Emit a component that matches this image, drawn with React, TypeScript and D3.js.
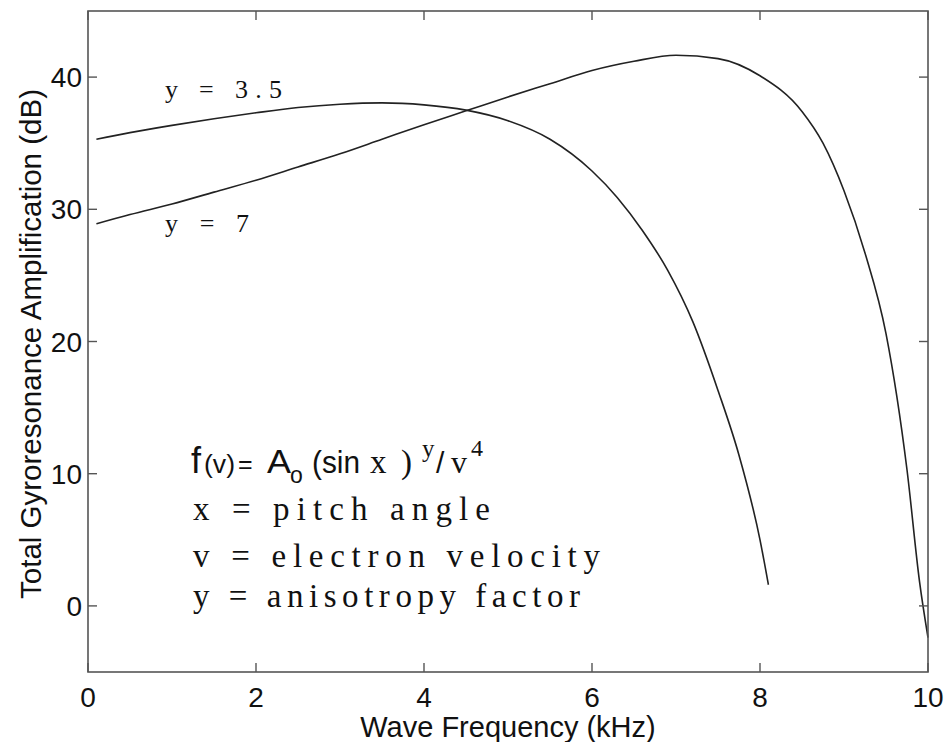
import React from "react";
import * as d3 from "d3";

const freq35 = [0.1, 0.5, 1, 1.5, 2, 2.5, 3, 3.5, 4, 4.5, 5, 5.5, 6, 6.3, 6.6, 6.9, 7.2, 7.5, 7.75, 8.0, 8.1];
const amp35 = [35.3, 35.8, 36.35, 36.85, 37.3, 37.7, 37.95, 38.05, 37.9, 37.5, 36.7, 35.3, 32.9, 30.9, 28.4, 25.4, 21.5, 16.3, 11.4, 5.0, 1.6];

const freq7 = [0.1, 0.5, 1, 1.5, 2, 2.5, 3, 3.5, 4, 4.5, 5, 5.5, 6, 6.5, 7, 7.5, 8, 8.5, 8.75, 9, 9.25, 9.5, 9.75, 9.9, 10];
const amp7 = [28.9, 29.6, 30.4, 31.3, 32.2, 33.2, 34.2, 35.3, 36.4, 37.45, 38.5, 39.5, 40.5, 41.2, 41.65, 41.4, 40.1, 37.4, 35.0, 31.4, 26.7, 20.6, 10.3, 1.8, -2.4];

const xTicks = [0, 2, 4, 6, 8, 10];
const yTicks = [0, 10, 20, 30, 40];

const xLabel = "Wave Frequency (kHz)";
const yLabel = "Total Gyroresonance Amplification (dB)";

const W = 945;
const H = 742;
const left = 88, right = 928, top = 11, bottom = 672;

export default function App() {
  const x = d3.scaleLinear().domain([0, 10]).range([left, right]);
  const y = d3.scaleLinear().domain([-5, 45]).range([bottom, top]);
  const line = d3
    .line<[number, number]>()
    .x((d) => x(d[0]))
    .y((d) => y(d[1]))
    .curve(d3.curveMonotoneX);
  const s35 = freq35.map((f, i) => [f, amp35[i]] as [number, number]);
  const s7 = freq7.map((f, i) => [f, amp7[i]] as [number, number]);
  const tl = 9;
  const axisColor = "#555";
  const txt = "#111";
  const sans = "'Liberation Sans', Arial, sans-serif";
  const serif = "'Liberation Serif', 'Times New Roman', serif";

  return (
    <svg
      width={W}
      height={H}
      style={{ position: "absolute", left: 0, top: 0, background: "#fff" }}
    >
      <rect x={0} y={0} width={W} height={H} fill="#fff" />
      <path d={line(s35) || ""} fill="none" stroke="#222" strokeWidth={1.6} />
      <path d={line(s7) || ""} fill="none" stroke="#222" strokeWidth={1.6} />
      <rect
        x={left}
        y={top}
        width={right - left}
        height={bottom - top}
        fill="none"
        stroke={axisColor}
        strokeWidth={1.6}
      />
      {xTicks.map((t) => (
        <g key={"xt" + t}>
          <line x1={x(t)} x2={x(t)} y1={bottom} y2={bottom - tl} stroke={axisColor} strokeWidth={1.4} />
          <line x1={x(t)} x2={x(t)} y1={top} y2={top + tl} stroke={axisColor} strokeWidth={1.4} />
          <text x={x(t)} y={707} textAnchor="middle" fontFamily={sans} fontSize={28} fill={txt}>
            {t}
          </text>
        </g>
      ))}
      {yTicks.map((t) => (
        <g key={"yt" + t}>
          <line x1={left} x2={left + tl} y1={y(t)} y2={y(t)} stroke={axisColor} strokeWidth={1.4} />
          <line x1={right} x2={right - tl} y1={y(t)} y2={y(t)} stroke={axisColor} strokeWidth={1.4} />
          <text x={82} y={y(t) + 10} textAnchor="end" fontFamily={sans} fontSize={28} fill={txt}>
            {t}
          </text>
        </g>
      ))}
      <text x={508} y={737} textAnchor="middle" fontFamily={sans} fontSize={29} fill={txt}>
        {xLabel}
      </text>
      <text
        transform="translate(41,344) rotate(-90)"
        textAnchor="middle"
        fontFamily={sans}
        fontSize={29.5}
        fill={txt}
      >
        {yLabel}
      </text>
      <text x={165} y={98} fontFamily={serif} fontSize={26} fill={txt} textLength={117} lengthAdjust="spacing">
        y = 3.5
      </text>
      <text x={165} y={232} fontFamily={serif} fontSize={26} fill={txt} textLength={84} lengthAdjust="spacing">
        y = 7
      </text>
      <g fill={txt}>
        <text x={191} y={473} fontFamily={sans} fontSize={36}>f</text>
        <text x={204} y={473} fontFamily={sans} fontSize={25} textLength={31} lengthAdjust="spacingAndGlyphs">(v)</text>
        <text x={238} y={473} fontFamily={sans} fontSize={25}>=</text>
        <text x={267} y={473} fontFamily={sans} fontSize={34} textLength={24} lengthAdjust="spacingAndGlyphs">A</text>
        <text x={290} y={483} fontFamily={sans} fontSize={23}>o</text>
        <text x={312} y={473} fontFamily={sans} fontSize={32} textLength={48} lengthAdjust="spacingAndGlyphs">(sin</text>
        <text x={370} y={473} fontFamily={serif} fontSize={33}>x</text>
        <text x={401} y={473} fontFamily={serif} fontSize={33}>)</text>
        <text x={422} y={457} fontFamily={serif} fontSize={25}>y</text>
        <text x={436} y={473} fontFamily={sans} fontSize={30}>/</text>
        <text x={451} y={473} fontFamily={serif} fontSize={32}>v</text>
        <text x={471} y={456} fontFamily={serif} fontSize={24}>4</text>
      </g>
      <text x={193} y={520} fontFamily={serif} fontSize={33} fill={txt} textLength={297} lengthAdjust="spacing">
        x  =  pitch angle
      </text>
      <text x={193} y={567} fontFamily={serif} fontSize={33} fill={txt} textLength={407} lengthAdjust="spacing">
        v  = electron velocity
      </text>
      <text x={193} y={607} fontFamily={serif} fontSize={33} fill={txt} textLength={387} lengthAdjust="spacing">
        y  = anisotropy factor
      </text>
    </svg>
  );
}
